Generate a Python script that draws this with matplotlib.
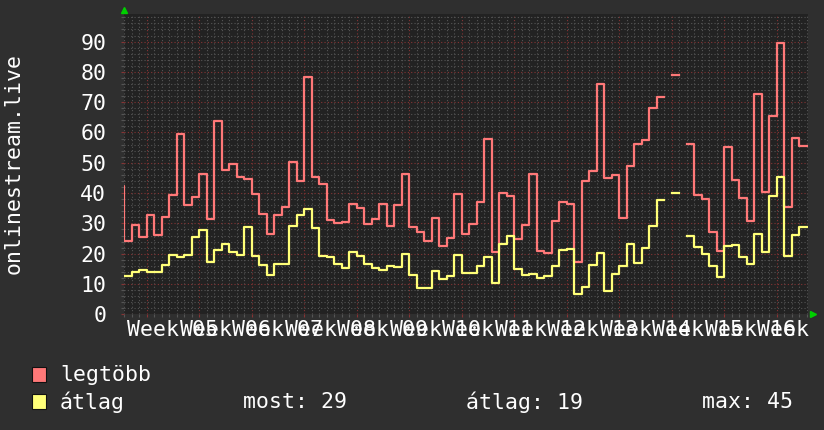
import numpy as np
import matplotlib
matplotlib.use("Agg")
import matplotlib.pyplot as plt
from matplotlib.patches import Rectangle
from matplotlib.transforms import Bbox, TransformedBbox

nan = np.nan

# daily values, day -1 (just left of the window) first
legtobb = [42.2,
           24.2, 29.5, 25.5, 32.8, 26.2, 32.1, 39.3, 59.5, 36.0, 38.6, 46.2, 31.3, 63.9, 47.5, 49.5, 45.2,
           44.8, 39.7, 33.2, 26.5, 32.9, 35.4, 50.1, 44.1, 78.3, 45.2, 43.0, 31.1, 30.2, 30.5, 36.5,
           35.0, 29.8, 31.3, 36.5, 29.1, 36.0, 46.4, 28.7, 27.0, 24.1, 31.7, 22.5, 25.1, 39.8, 26.5,
           29.9, 37.0, 58.0, 20.6, 40.0, 39.2, 24.8, 29.5, 46.4, 21.0, 20.3, 30.8, 37.0, 36.4, 17.1, 43.9,
           47.2, 75.9, 44.9, 45.9, 31.9, 48.8, 56.3, 57.6, 68.1, 71.7, nan, 78.9, nan, 56.3, 39.5,
           37.9, 27.3, 21.0, 55.3, 44.4, 38.3, 30.7, 72.8, 40.3, 65.4, 89.4, 35.3, 58.3, 55.6]
atlag = [12.7,
         12.7, 14.1, 14.7, 14.1, 14.1, 16.4, 19.5, 18.9, 19.5, 25.5, 27.7, 17.4, 21.3, 23.1, 20.7, 19.5,
         28.8, 19.3, 16.4, 13.0, 16.6, 16.6, 29.0, 32.9, 34.6, 28.6, 19.3, 18.9, 16.7, 15.4, 20.7,
         19.3, 16.7, 15.2, 14.7, 16.0, 15.7, 20.0, 13.0, 8.8, 8.8, 14.4, 11.8, 12.8, 19.7, 13.6,
         13.6, 16.0, 18.9, 10.4, 23.1, 25.9, 15.1, 13.1, 13.4, 11.9, 12.8, 16.0, 21.1, 21.6, 6.6, 9.0,
         16.4, 20.2, 7.8, 13.4, 15.9, 23.3, 17.0, 21.9, 29.1, 37.7, nan, 40.0, nan, 25.8, 22.3,
         20.0, 16.0, 12.3, 22.4, 22.8, 19.0, 16.7, 26.5, 20.4, 39.1, 45.2, 19.3, 26.1, 28.8]
days = np.arange(-1, len(legtobb))  # step edges, one more than values

week_labels = ["Week %02d" % w for w in range(5, 18)]
week_start = 3      # first week boundary inside the window (day index)
label_offset = 3.5  # labels centred mid-week

legend_names = ["legtöbb", "átlag"]
stats = [("most", 29), ("átlag", 19), ("max", 45)]

RED = "#ff7878"
YEL = "#ffff78"
BG = "#2f2f2f"
PLOT_BG = "#222222"
FONT = "DejaVu Sans Mono"
FS = 15.5

W, H = 824, 430
fig = plt.figure(figsize=(W / 100, H / 100), dpi=100, facecolor=BG)
ax = fig.add_axes([124.2 / W, 1 - 314.3 / H, (808 - 124.2) / W, 300 / H])
ax.set_facecolor(PLOT_BG)

r = np.append(legtobb, legtobb[-1])
y = np.append(atlag, atlag[-1])
ax.plot(days, r, drawstyle="steps-post", color=RED, lw=1.6)
ax.plot(days, y, drawstyle="steps-post", color=YEL, lw=1.6)

ax.set_xlim(0, 91.17)
ax.set_ylim(0, 99)

n_weeks = len(week_labels)
ax.set_xticks(np.arange(n_weeks) * 7 + week_start)
ax.set_xticks(np.arange(0, 92), minor=True)
ax.set_yticks(np.arange(0, 91, 10))
ax.set_yticks(np.arange(0, 99, 2), minor=True)
ax.set_axisbelow(True)
ax.grid(which="minor", color="#555555", linestyle=(0, (1, 2)), lw=0.8)
ax.grid(which="major", color="#853434", linestyle=(0, (1, 2)), lw=0.8)
ax.tick_params(which="both", direction="out", length=2, color="#555555", width=0.8)
ax.tick_params(axis="x", which="major", labelbottom=False, color="#853434")
ax.tick_params(axis="y", which="major", colors="white", pad=11)
ax.tick_params(axis="y", which="major", color="#853434")
for lab in ax.get_yticklabels():
    lab.set_fontfamily(FONT)
    lab.set_fontsize(FS)
for s in ax.spines.values():
    s.set_visible(False)

# week labels
sec = ax.secondary_xaxis("bottom")
sec.set_xticks(np.arange(n_weeks) * 7 + week_start + label_offset, week_labels)
sec.tick_params(length=0, pad=4, labelcolor="white")
sec.spines["bottom"].set_visible(False)
clip = TransformedBbox(Bbox([[0, 0], [810 / W, 1]]), fig.transFigure)
for lab in sec.get_xticklabels():
    lab.set_fontfamily(FONT)
    lab.set_fontsize(FS)
    lab.set_clip_on(True)
    lab.set_clip_box(clip)

# green arrows
ax.plot([0], [1.014], marker="^", color="#00d000", ms=5, transform=ax.transAxes, clip_on=False)
ax.plot([1.0073], [0], marker=">", color="#00d000", ms=5, transform=ax.transAxes, clip_on=False)

fig.text(14 / W, 1 - 164 / H, "onlinestream.live", rotation=90, ha="center", va="center",
         color="white", family=FONT, fontsize=FS)

# legend
for i, (name, col) in enumerate(zip(legend_names, [RED, YEL])):
    yc = 375 + 27 * i
    fig.patches.append(Rectangle((32 / W, 1 - (yc + 7) / H), 14 / W, 15 / H, transform=fig.transFigure,
                                 facecolor=col, edgecolor="#111111", lw=0.8))
    fig.text(60 / W, 1 - yc / H, name, va="center", color="white", family=FONT, fontsize=FS)
for (k, v), xs in zip(stats, [243, 466, 702]):
    fig.text(xs / W, 1 - 402 / H, "%s: %d" % (k, v), va="center", color="white", family=FONT, fontsize=FS)

fig.savefig("out.png", dpi=100, facecolor=BG)
